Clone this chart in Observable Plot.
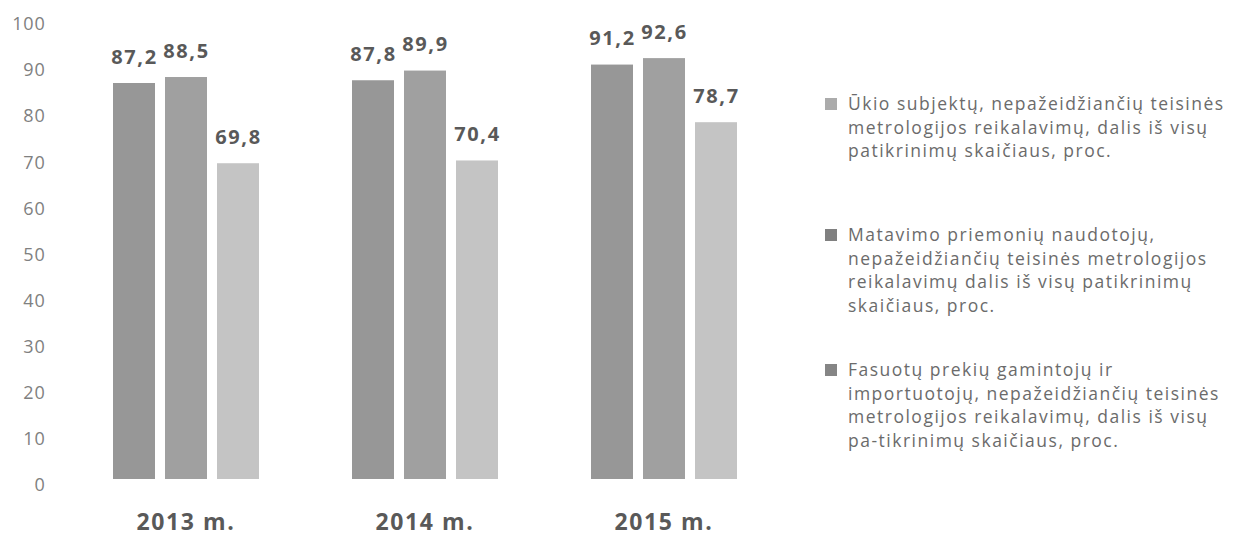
<!DOCTYPE html>
<html>
<head>
<meta charset="utf-8">
<script src="https://cdn.jsdelivr.net/npm/d3@7"></script>
<script src="https://cdn.jsdelivr.net/npm/@observablehq/plot@0.6"></script>
<style>
  body { margin: 0; background: #fff; }
  #wrap { position: relative; width: 1246px; height: 541px; overflow: hidden; font-family: "Open Sans", sans-serif; }
  #chart { position: absolute; left: 0; top: 0; }
  .leg { position: absolute; left: 825px; font-size: 17.5px; line-height: 23.5px; color: #6b6b6b; white-space: pre; letter-spacing: 1.5px; }
  .sw { position: absolute; left: 0; top: 6px; width: 12px; height: 12px; }
  .lt { position: absolute; left: 23px; top: 0; }
</style>
</head>
<body>
<div id="wrap"><div id="chart"></div></div>
<script>
const years = ["2013 m.", "2014 m.", "2015 m."];
const seriesKeys = ["s1", "s2", "s3"];
const series1 = [87.2, 87.8, 91.2];
const series2 = [88.5, 89.9, 92.6];
const series3 = [69.8, 70.4, 78.7];
const barColors = ["#979797", "#a0a0a0", "#c4c4c4"];
const yTicks = [0, 10, 20, 30, 40, 50, 60, 70, 80, 90, 100];

const legendLabels = [
  "Ūkio subjektų, nepažeidžiančių teisinės\nmetrologijos reikalavimų, dalis iš visų\npatikrinimų skaičiaus, proc.",
  "Matavimo priemonių naudotojų,\nnepažeidžiančių teisinės metrologijos\nreikalavimų dalis iš visų patikrinimų\nskaičiaus, proc.",
  "Fasuotų prekių gamintojų ir\nimportuotojų, nepažeidžiančių teisinės\nmetrologijos reikalavimų, dalis iš visų\npa-tikrinimų skaičiaus, proc."
];
const legendColors = ["#ababab", "#808080", "#858585"];
const legendTops = [92, 223, 358];

const allSeries = [series1, series2, series3];
const data = [];
years.forEach((yr, i) => {
  seriesKeys.forEach((k, j) => {
    data.push({year: yr, key: k, value: allSeries[j][i]});
  });
});
const fmt = v => v.toFixed(1).replace(".", ",");

const plot = Plot.plot({
  width: 800,
  height: 541,
  marginLeft: 66,
  marginRight: 17,
  marginTop: 24,
  marginBottom: 56,
  style: {fontFamily: "Open Sans, sans-serif", background: "#fff"},
  fx: {domain: years, padding: 0, label: null},
  x: {domain: seriesKeys, paddingInner: 0.2, paddingOuter: 0.875, axis: null},
  y: {domain: [0, 100], label: null},
  color: {domain: seriesKeys, range: barColors},
  marks: [
    Plot.axisY({ticks: yTicks, tickSize: 0, tickPadding: 21, fontSize: 18, fill: "#808080", label: null, tickFormat: d => String(d)}),
    Plot.axisFx({anchor: "bottom", tickSize: 0, tickPadding: 28, fontSize: 23, fontWeight: "bold", fill: "#595959", label: null}),
    Plot.barY(data, {fx: "year", x: "key", y: "value", fill: "key", insetBottom: 6}),
    Plot.text(data, {fx: "year", x: "key", y: "value", text: d => fmt(d.value), lineAnchor: "bottom", dy: -20, fontSize: 20, fontWeight: "bold", fill: "#595959"})
  ]
});
plot.querySelectorAll("text").forEach(t => t.style.letterSpacing = "1.6px");
plot.querySelectorAll("[aria-label='y-axis tick label'] text").forEach(t => t.style.letterSpacing = "0.8px");
document.getElementById("chart").appendChild(plot);

const wrap = document.getElementById("wrap");
legendLabels.forEach((lab, i) => {
  const div = document.createElement("div");
  div.className = "leg";
  div.style.top = legendTops[i] + "px";
  div.innerHTML = `<div class="sw" style="background:${legendColors[i]}"></div><div class="lt"></div>`;
  div.querySelector(".lt").textContent = lab;
  wrap.appendChild(div);
});
</script>
</body>
</html>
